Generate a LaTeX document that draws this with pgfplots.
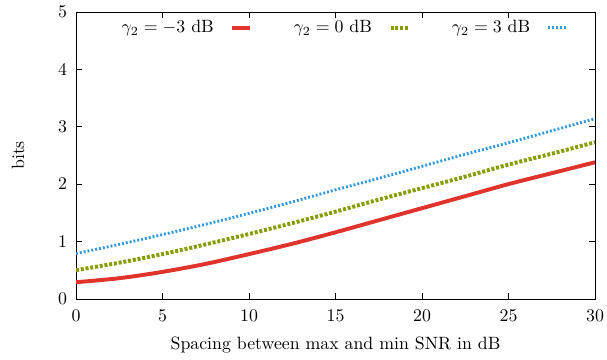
\documentclass[border=0pt]{standalone}
\usepackage{pgfplots}
\pgfplotsset{compat=1.18}
\definecolor{cred}{HTML}{E0332C}
\definecolor{cgreen}{HTML}{8A9C00}
\definecolor{cblue}{HTML}{3399DD}
\newcommand{\legtxt}[1]{\makebox[51pt][r]{#1}}
\begin{document}
\begin{tikzpicture}
\begin{axis}[
  at={(0,0)}, anchor=origin,
  scale only axis,
  width=291.6pt, height=161.2pt,
  xmin=0, xmax=30, ymin=0, ymax=5,
  xtick={0,5,...,30}, ytick={0,1,...,5},
  tick align=inside,
  tick style={black, thin},
  major tick length=3.4pt,
  xticklabel style={yshift=-3pt},
  yticklabel style={xshift=-1.5pt},
  xlabel={Spacing between max and min SNR in dB},
  ylabel={bits},
  xlabel style={at={(axis description cs:0.5,0)}, anchor=center, yshift=-25.8pt},
  ylabel style={at={(axis description cs:-0.1118,0.5)}, anchor=center},
  legend columns=3,
  legend plot pos=right,
  legend style={draw=none, fill=none, inner sep=0pt, at={(axis description cs:0.083,0.945)}, anchor=west,
    /tikz/every odd column/.append style={column sep=7.4pt},
    /tikz/every even column/.append style={column sep=14.3pt}},
  legend image code/.code={\draw[#1, line cap=butt] (0cm,0cm) -- (0.35cm,0cm);},
]
\addplot[cred, line width=2.2pt, smooth] coordinates {
(0,0.29) (2.5,0.36) (5,0.47) (7.5,0.61) (10,0.78) (12.5,0.96) (15,1.16) (17.5,1.37) (20,1.58) (22.5,1.79) (25,2.0) (27.5,2.19) (30,2.38)};
\addlegendentry{\legtxt{$\gamma_2=-3$ dB}}
\addplot[cgreen, line width=2.2pt, dash pattern=on 1.7pt off 1pt, smooth] coordinates {
(0,0.50) (2.5,0.63) (5,0.78) (7.5,0.95) (10,1.13) (12.5,1.32) (15,1.52) (17.5,1.73) (20,1.93) (22.5,2.13) (25,2.34) (27.5,2.53) (30,2.73)};
\addlegendentry{\legtxt{$\gamma_2=0$ dB}}
\addplot[cblue, line width=1.6pt, dash pattern=on 1.1pt off 1.1pt, smooth] coordinates {
(0,0.79) (2.5,0.95) (5,1.12) (7.5,1.30) (10,1.49) (12.5,1.69) (15,1.90) (17.5,2.10) (20,2.31) (22.5,2.52) (25,2.72) (27.5,2.93) (30,3.14)};
\addlegendentry{\legtxt{$\gamma_2=3$ dB}}
\end{axis}
\pgfresetboundingbox
\path (-42.7pt,-34.3pt) rectangle (298.3pt,167.9pt);
\end{tikzpicture}
\end{document}
